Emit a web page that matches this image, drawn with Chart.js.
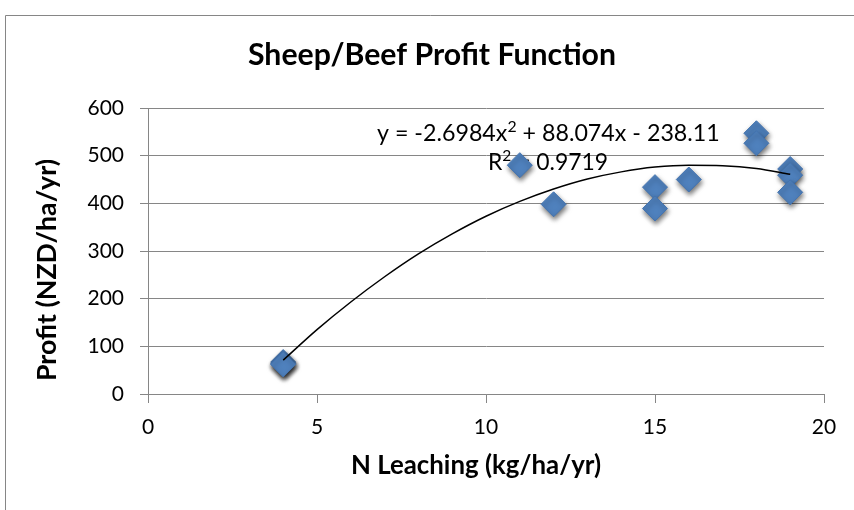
<!DOCTYPE html>
<html>
<head>
<meta charset="utf-8">
<script src="https://cdn.jsdelivr.net/npm/chart.js@4.4.1/dist/chart.umd.min.js"></script>
<style>
  html, body { margin: 0; padding: 0; background: #fff; }
  #wrap { width: 854px; height: 510px; }
</style>
</head>
<body>
<div id="wrap"><canvas id="chart" width="854" height="510"></canvas></div>
<script>
// 散点数据 (N Leaching, Profit)
const leaching = [4, 4, 4, 11, 12, 15, 15, 16, 18, 18, 19, 19, 19];
const profit = [67, 64, 62, 480, 398, 434, 389, 450, 547, 526, 472, 459, 423];

// 趋势线（读自图上的曲线）
const trendX = [4, 5, 6, 7, 8, 9, 10, 11, 12, 13, 14, 15, 16, 17, 18, 19];
const trendY = [71, 135, 193, 246, 294, 336, 373, 404, 430, 451, 466, 476, 480, 479, 473, 461];

const xTicks = [0, 5, 10, 15, 20];
const yTicks = [0, 100, 200, 300, 400, 500, 600];

const titleText = 'Sheep/Beef Profit Function';
const xTitle = 'N Leaching (kg/ha/yr)';
const yTitle = 'Profit (NZD/ha/yr)';
// 趋势线公式，分段绘制以便上标
const eqParts = [['y = -2.6984x', false], ['2', true], [' + 88.074x - 238.11', false]];
const r2Parts = [['R', false], ['2', true], [' = 0.9719', false]];

const FONT = 'Lato, "Open Sans", sans-serif';
const GRID = '#868686';

// 按目标宽度调整字号
function fitFont(ctx, text, weight, width) {
    ctx.font = weight + ' 20px ' + FONT;
    const w = ctx.measureText(text).width;
    return weight + ' ' + (20 * width / w).toFixed(2) + 'px ' + FONT;
}

// 带上标的文字
function drawSup(ctx, parts, x, y, width) {
    const measure = size => parts.reduce((sum, p) => {
        ctx.font = (p[1] ? size * 0.68 : size) + 'px ' + FONT;
        return sum + ctx.measureText(p[0]).width;
    }, 0);
    const size = 20 * width / measure(20);
    let cx = x;
    parts.forEach(p => {
        ctx.font = (p[1] ? size * 0.68 : size) + 'px ' + FONT;
        ctx.fillText(p[0], cx, p[1] ? y - size * 0.38 : y);
        cx += ctx.measureText(p[0]).width;
    });
}

const textPlugin = {
    id: 'texts',
    beforeDraw(chart) {
        const ctx = chart.ctx;
        ctx.save();
        ctx.strokeStyle = GRID;
        ctx.lineWidth = 1;
        ctx.beginPath();
        ctx.moveTo(5.5, 520);
        ctx.lineTo(5.5, 15.5);
        ctx.lineTo(860, 15.5);
        ctx.stroke();

        ctx.fillStyle = '#000';
        ctx.textAlign = 'center';
        ctx.textBaseline = 'alphabetic';
        ctx.font = fitFont(ctx, titleText, 'bold', 368);
        ctx.fillText(titleText, 432, 65);

        ctx.font = fitFont(ctx, xTitle, 'bold', 250);
        ctx.fillText(xTitle, 476, 474);

        ctx.translate(56, 270);
        ctx.rotate(-Math.PI / 2);
        ctx.font = fitFont(ctx, yTitle, 'bold', 222);
        ctx.fillText(yTitle, 0, 0);
        ctx.restore();
    },
    beforeDatasetsDraw(chart) {
        const ctx = chart.ctx;
        ctx.save();
        ctx.fillStyle = '#000';
        ctx.textAlign = 'left';
        ctx.textBaseline = 'alphabetic';
        drawSup(ctx, eqParts, 377, 141, 343);
        drawSup(ctx, r2Parts, 488, 170, 120);
        ctx.restore();
    },
    beforeDatasetDraw(chart, args) {
        if (args.index === 1) {
            const ctx = chart.ctx;
            ctx.save();
            ctx.shadowColor = 'rgba(0,0,0,0.55)';
            ctx.shadowBlur = 5;
            ctx.shadowOffsetX = 1;
            ctx.shadowOffsetY = 3;
        }
    },
    afterDatasetDraw(chart, args) {
        if (args.index === 1) chart.ctx.restore();
    }
};

new Chart(document.getElementById('chart'), {
    type: 'scatter',
    data: {
        datasets: [
            {
                type: 'line',
                data: trendX.map((x, i) => ({ x: x, y: trendY[i] })),
                borderColor: '#000',
                borderWidth: 1.5,
                pointRadius: 0,
                fill: false,
                cubicInterpolationMode: 'monotone',
                order: 0
            },
            {
                data: leaching.map((x, i) => ({ x: x, y: profit[i] })),
                pointStyle: 'rectRot',
                pointRadius: 12.5,
                pointHoverRadius: 12.5,
                backgroundColor: '#4F81BD',
                borderColor: '#4373AF',
                borderWidth: 1,
                order: 1
            }
        ]
    },
    options: {
        responsive: false,
        animation: false,
        events: [],
        layout: { padding: { top: 108, right: 30, left: 0, bottom: 0 } },
        plugins: {
            legend: { display: false },
            title: { display: false },
            tooltip: { enabled: false }
        },
        scales: {
            x: {
                type: 'linear',
                min: 0,
                max: 20,
                afterBuildTicks(scale) { scale.ticks = xTicks.map(v => ({ value: v })); },
                afterFit(scale) { scale.height = 116; },
                grid: { drawOnChartArea: false, drawTicks: true, tickLength: 9, color: GRID, lineWidth: 1 },
                border: { display: true, color: GRID, width: 1 },
                ticks: { color: '#000', padding: 12, font: { family: FONT, size: 21 } }
            },
            y: {
                min: 0,
                max: 600,
                afterBuildTicks(scale) { scale.ticks = yTicks.map(v => ({ value: v })); },
                afterFit(scale) { scale.width = 148; },
                grid: { drawOnChartArea: true, drawTicks: true, tickLength: 8, color: GRID, lineWidth: 1 },
                border: { display: true, color: GRID, width: 1 },
                ticks: { color: '#000', padding: 16, font: { family: FONT, size: 21 } }
            }
        }
    },
    plugins: [textPlugin]
});
</script>
</body>
</html>
